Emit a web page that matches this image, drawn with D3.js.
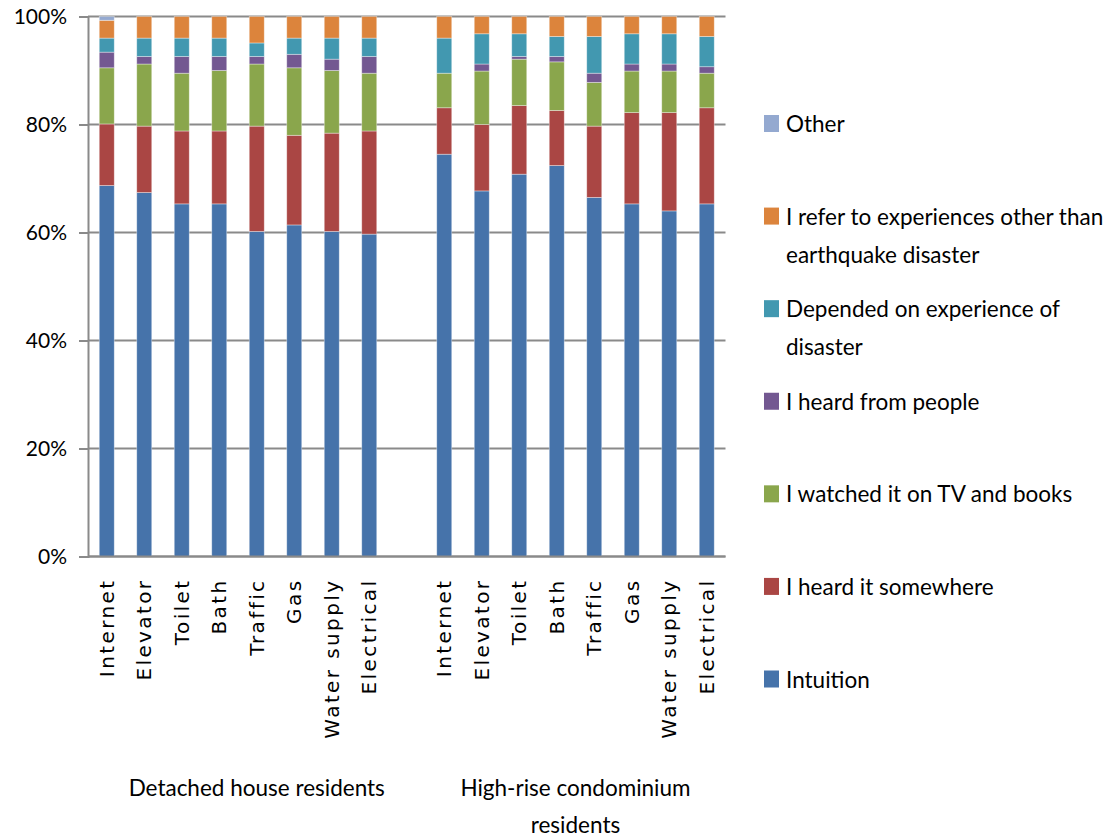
<!DOCTYPE html>
<html>
<head>
<meta charset="utf-8">
<script src="https://cdn.jsdelivr.net/npm/d3@7/dist/d3.min.js"></script>
<style>
  html, body { margin: 0; padding: 0; background: #fff; }
  svg { display: block; }
</style>
</head>
<body>
<svg id="chart" width="1115" height="837"></svg>
<script>
// Categories shown under each bar, and the two resident groups
const categories = ["Internet", "Elevator", "Toilet", "Bath", "Traffic", "Gas", "Water supply", "Electrical"];
const groups = ["Detached house residents", "High-rise condominium residents"];
const groupLabelLines = [["Detached house residents"], ["High-rise condominium", "residents"]];

// Share (%) per answer: first 8 = detached houses, last 8 = high-rise condominiums
const intuition          = [68.7, 67.4, 65.3, 65.3, 60.2, 61.4, 60.2, 59.7,  74.5, 67.7, 70.8, 72.4, 66.5, 65.3, 64.0, 65.3];
const heardSomewhere     = [11.4, 12.3, 13.5, 13.5, 19.5, 16.6, 18.2, 19.1,   8.6, 12.3, 12.7, 10.2, 13.2, 16.9, 18.2, 17.8];
const tvAndBooks         = [10.4, 11.5, 10.7, 11.2, 11.5, 12.5, 11.6, 10.7,   6.4,  9.9,  8.6,  9.0,  8.1,  7.7,  7.7,  6.4];
const heardFromPeople    = [ 2.9,  1.4,  3.1,  2.6,  1.4,  2.5,  2.1,  3.1,   0.0,  1.3,  0.5,  1.0,  1.7,  1.3,  1.3,  1.2];
const dependedExperience = [ 2.6,  3.4,  3.4,  3.4,  2.5,  3.0,  3.9,  3.4,   6.5,  5.6,  4.2,  3.7,  6.8,  5.6,  5.6,  5.6];
const referOther         = [ 3.3,  4.0,  4.0,  4.0,  4.9,  4.0,  4.0,  4.0,   4.0,  3.2,  3.2,  3.7,  3.7,  3.2,  3.2,  3.7];
const otherAnswer        = [ 0.7,  0.0,  0.0,  0.0,  0.0,  0.0,  0.0,  0.0,   0.0,  0.0,  0.0,  0.0,  0.0,  0.0,  0.0,  0.0];

const seriesNames = [
  "Intuition",
  "I heard it somewhere",
  "I watched it on TV and books",
  "I heard from people",
  "Depended on experience of disaster",
  "I refer to experiences other than earthquake disaster",
  "Other"
];
const seriesValues = [intuition, heardSomewhere, tvAndBooks, heardFromPeople, dependedExperience, referOther, otherAnswer];
const seriesColors = ["#4673aa", "#aa4644", "#8aa64c", "#735891", "#4298b0", "#dc843c", "#94a9d0"];
const legendLines = [
  ["Intuition"],
  ["I heard it somewhere"],
  ["I watched it on TV and books"],
  ["I heard from people"],
  ["Depended on experience of", "disaster"],
  ["I refer to experiences other than", "earthquake disaster"],
  ["Other"]
];

const yTicks = [0, 20, 40, 60, 80, 100];

// ---- layout ----
const plot = { left: 88, right: 725.5, top: 16.5, bottom: 556.5 };
const svg = d3.select("#chart");
const textFont = "Lato, 'Open Sans', sans-serif";

// Slots along the x axis: 8 detached bars, one empty slot, 8 high-rise bars
const slotKeys = [];
categories.forEach((c, i) => slotKeys.push("0|" + i));
slotKeys.push("gap");
categories.forEach((c, i) => slotKeys.push("1|" + i));

const x = d3.scaleBand()
  .domain(slotKeys)
  .range([plot.left, plot.right])
  .paddingInner(0.6)
  .paddingOuter(0.3);

const y = d3.scaleLinear().domain([0, 100]).range([plot.bottom, plot.top]);

// Rows for stacking
const rows = [];
groups.forEach((g, gi) => {
  categories.forEach((c, ci) => {
    const idx = gi * categories.length + ci;
    const row = { key: gi + "|" + ci };
    seriesNames.forEach((s, si) => { row[s] = seriesValues[si][idx]; });
    rows.push(row);
  });
});

const stacked = d3.stack().keys(seriesNames)(rows);

// Gridlines
const gridColor = "#8a8a8a";
svg.append("g")
  .selectAll("line")
  .data(yTicks)
  .join("line")
  .attr("x1", plot.left)
  .attr("x2", plot.right)
  .attr("y1", d => y(d))
  .attr("y2", d => y(d))
  .attr("stroke", gridColor)
  .attr("stroke-width", 2);

// Bars
svg.append("g")
  .selectAll("g")
  .data(stacked)
  .join("g")
  .attr("fill", (d, i) => seriesColors[i])
  .selectAll("rect")
  .data(d => d.filter(p => p[1] - p[0] > 0))
  .join("rect")
  .attr("x", d => x(d.data.key))
  .attr("width", x.bandwidth())
  .attr("y", d => y(d[1]))
  .attr("height", d => y(d[0]) - y(d[1]))
  .attr("stroke", "rgba(255,255,255,0.45)")
  .attr("stroke-width", 0.8);

// Y axis
const yAxis = d3.axisLeft(y)
  .tickValues(yTicks)
  .tickFormat(d => d + "%")
  .tickSize(9)
  .tickPadding(12);

const yAxisG = svg.append("g")
  .attr("transform", `translate(${plot.left},0)`)
  .call(yAxis);
yAxisG.select(".domain").attr("stroke", gridColor).attr("stroke-width", 2);
yAxisG.selectAll(".tick line").attr("stroke", gridColor).attr("stroke-width", 2);
yAxisG.selectAll(".tick text")
  .attr("fill", "#000")
  .style("font-family", textFont)
  .style("font-size", "21px");

// X axis baseline
svg.append("line")
  .attr("x1", plot.left).attr("x2", plot.right)
  .attr("y1", plot.bottom).attr("y2", plot.bottom)
  .attr("stroke", gridColor).attr("stroke-width", 2);

// Category labels (rotated)
svg.append("g")
  .selectAll("text")
  .data(rows)
  .join("text")
  .attr("transform", d => `translate(${x(d.key) + x.bandwidth() / 2},${plot.bottom + 22}) rotate(-90)`)
  .attr("text-anchor", "end")
  .attr("dy", "0.36em")
  .style("font-family", "'DejaVu Sans', Verdana, sans-serif")
  .style("font-size", "20px")
  .style("letter-spacing", "2.4px")
  .attr("fill", "#000")
  .text(d => categories[+d.key.split("|")[1]]);

// Group labels, centred on their slot ranges (detached group includes the empty slot)
const groupCenters = [
  (x("0|0") + x("gap") + x.bandwidth()) / 2,
  (x("1|0") + x("1|" + (categories.length - 1)) + x.bandwidth()) / 2
];
const groupG = svg.append("g")
  .style("font-family", textFont)
  .style("font-size", "22.5px")
  .attr("fill", "#000");
groupLabelLines.forEach((lines, gi) => {
  lines.forEach((line, li) => {
    groupG.append("text")
      .attr("x", groupCenters[gi])
      .attr("y", 796 + li * 37)
      .attr("text-anchor", "middle")
      .text(line);
  });
});

// Legend (top entry is the last series)
const legendOrder = d3.range(seriesNames.length).reverse();
const legendY = d3.scalePoint()
  .domain(legendOrder)
  .range([123.5, 679]);

const legend = svg.append("g")
  .style("font-family", textFont)
  .style("font-size", "22.5px");

legendOrder.forEach(si => {
  const cy = legendY(si);
  legend.append("rect")
    .attr("x", 764)
    .attr("y", cy - 8.5)
    .attr("width", 15)
    .attr("height", 17)
    .attr("fill", seriesColors[si]);
  legendLines[si].forEach((line, li) => {
    legend.append("text")
      .attr("x", 786)
      .attr("y", cy + 8.5 + li * 38)
      .attr("fill", "#000")
      .text(line);
  });
});
</script>
</body>
</html>
